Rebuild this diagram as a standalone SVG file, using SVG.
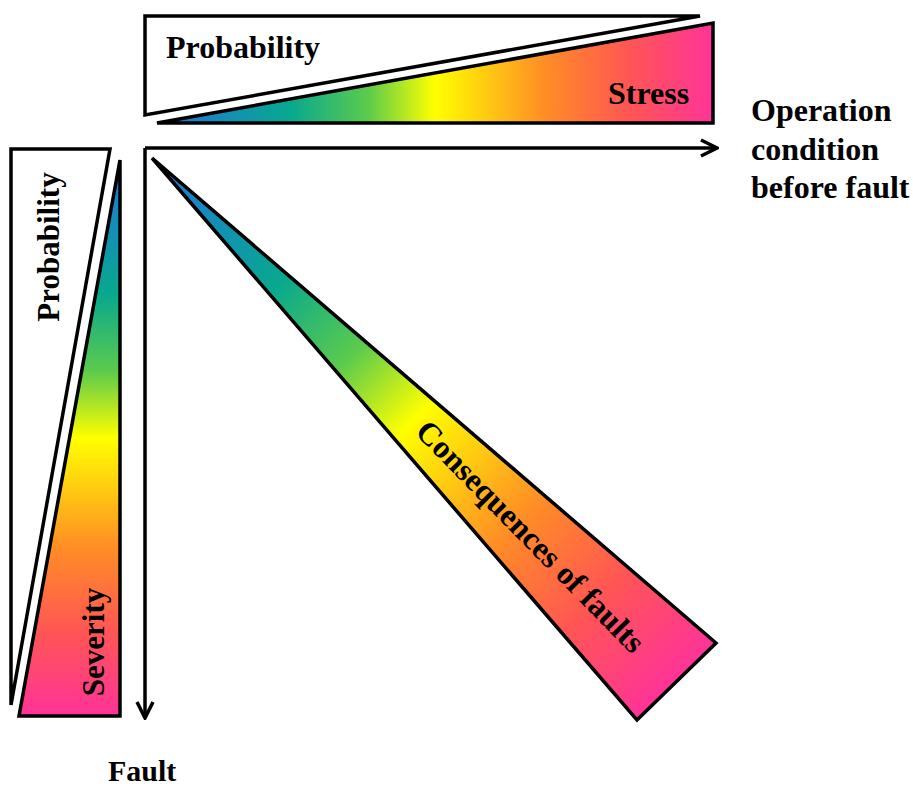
<svg xmlns="http://www.w3.org/2000/svg" width="913" height="787" viewBox="0 0 913 787">
<style>
.t{font-family:"Liberation Serif","Times New Roman",serif;font-weight:bold;fill:#000}
.w{fill:#fff;stroke:#000;stroke-width:3.5;stroke-linejoin:miter}
.g{stroke:#000;stroke-width:3.5}
.ax{fill:none;stroke:#000;stroke-width:3.5}
</style>
<defs>
<linearGradient id="gh" gradientUnits="userSpaceOnUse" x1="157" y1="0" x2="713" y2="0">
<stop offset="0" stop-color="#1F74E0"/><stop offset="0.24" stop-color="#08A88E"/><stop offset="0.38" stop-color="#5CCB4C"/><stop offset="0.5" stop-color="#FFFF00"/><stop offset="0.7" stop-color="#FF8C26"/><stop offset="0.85" stop-color="#FF5555"/><stop offset="1" stop-color="#FF3399"/>
</linearGradient>
<linearGradient id="gv" gradientUnits="userSpaceOnUse" x1="0" y1="160" x2="0" y2="716">
<stop offset="0" stop-color="#1F74E0"/><stop offset="0.24" stop-color="#08A88E"/><stop offset="0.38" stop-color="#5CCB4C"/><stop offset="0.5" stop-color="#FFFF00"/><stop offset="0.7" stop-color="#FF8C26"/><stop offset="0.85" stop-color="#FF5555"/><stop offset="1" stop-color="#FF3399"/>
</linearGradient>
<linearGradient id="gd" gradientUnits="userSpaceOnUse" x1="152" y1="158" x2="676" y2="681">
<stop offset="0" stop-color="#1F74E0"/><stop offset="0.24" stop-color="#08A88E"/><stop offset="0.38" stop-color="#5CCB4C"/><stop offset="0.5" stop-color="#FFFF00"/><stop offset="0.7" stop-color="#FF8C26"/><stop offset="0.85" stop-color="#FF5555"/><stop offset="1" stop-color="#FF3399"/>
</linearGradient>
<marker id="arr" viewBox="0 0 20 20" refX="18" refY="10" markerWidth="20" markerHeight="20" markerUnits="userSpaceOnUse" orient="auto">
<path d="M2,2 L18,10 L2,18" fill="none" stroke="#000" stroke-width="3.5"/>
</marker>
</defs>
<g id="top-probability">
<polygon class="w" points="145,16 700,16 145,115"/>
<text class="t" x="166" y="58" font-size="32">Probability</text>
</g>
<g id="top-stress">
<polygon class="g" fill="url(#gh)" points="157,123 713,23 713,123"/>
<text class="t" x="608" y="104" font-size="32">Stress</text>
</g>
<g id="left-probability">
<polygon class="w" points="11,149 110,149 11,705"/>
<text class="t" font-size="31" text-anchor="middle" transform="translate(59,247) rotate(-90)">Probability</text>
</g>
<g id="left-severity">
<polygon class="g" fill="url(#gv)" points="120,160 120,716 19,716"/>
<text class="t" font-size="31" text-anchor="middle" transform="translate(104,642) rotate(-90)">Severity</text>
</g>
<g id="consequences">
<polygon class="g" fill="url(#gd)" points="152,158 716,643 637,720"/>
<text class="t" font-size="32" text-anchor="middle" transform="translate(523,544) rotate(45.5)">Consequences of faults</text>
</g>
<g id="connectors">
<path class="ax" d="M145,148 L717,148" marker-end="url(#arr)"/>
<path class="ax" d="M145,148 L145,718" marker-end="url(#arr)"/>
</g>
<g id="operation-label">
<text class="t" font-size="32" x="751" y="121">Operation</text>
<text class="t" font-size="32" x="751" y="160">condition</text>
<text class="t" font-size="32" x="751" y="198">before fault</text>
</g>
<g id="fault-label">
<text class="t" font-size="30" x="108" y="781">Fault</text>
</g>
</svg>
